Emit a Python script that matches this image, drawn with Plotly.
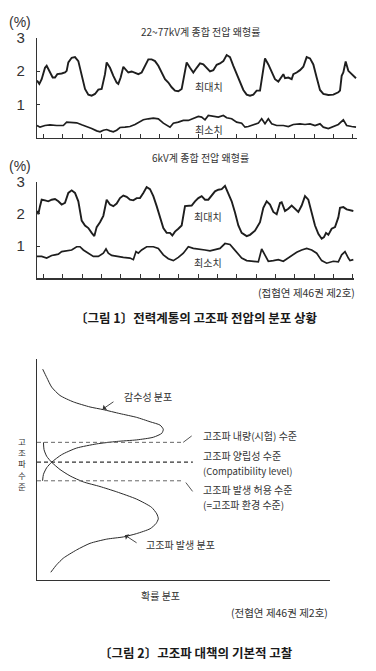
import plotly.graph_objects as go

# ---------------- Figure 1 data (time samples, distortion %) ----------------
t1_max = [1, 8, 15, 25, 30, 40, 48, 55, 62, 75, 85, 90, 95, 105, 115, 125, 130, 135, 145, 155,
          165, 175, 185, 195, 205, 210, 220, 230, 240, 245, 252, 260, 268, 275, 285, 295, 305, 315,
          325, 335, 345, 355, 365, 375, 385, 395, 405, 415, 425, 435, 445, 450, 460, 470, 480, 490,
          500, 510, 520, 530, 540, 550, 560, 570, 580, 590, 600, 610, 620, 630, 640, 650, 660, 670,
          680, 685, 695, 705, 715, 725, 735, 740, 745, 755, 765, 770, 780, 790, 800, 810, 820, 830,
          840, 850, 860, 875, 890, 905, 910, 915, 920, 927, 935, 945, 958]
v1_max = [1.72, 1.62, 1.76, 2.10, 2.16, 1.96, 1.81, 1.81, 1.91, 1.93, 1.96, 2.01, 2.26, 2.40, 2.42,
          2.30, 2.10, 1.81, 1.47, 1.30, 1.27, 1.32, 1.45, 1.47, 1.91, 2.26, 2.10, 1.86, 1.66, 1.62,
          1.81, 2.13, 2.03, 1.96, 1.99, 1.96, 1.91, 1.96, 2.16, 2.35, 2.35, 2.30, 2.16, 1.96, 1.76,
          1.66, 1.52, 1.42, 1.40, 1.47, 1.96, 2.26, 2.10, 1.96, 2.10, 2.23, 2.20, 2.09, 1.99, 2.03,
          2.19, 2.23, 2.30, 2.48, 2.42, 2.16, 1.91, 1.71, 1.44, 1.30, 1.27, 1.30, 1.42, 1.42, 2.10,
          2.38, 2.20, 1.96, 1.76, 1.69, 1.86, 1.91, 1.79, 1.81, 1.76, 1.91, 1.96, 2.03, 2.13, 2.42,
          2.38, 2.20, 1.81, 1.44, 1.32, 1.29, 1.30, 1.37, 1.42, 1.86, 1.96, 2.29, 2.01, 1.91, 1.79]

t1_min = [1, 10, 25, 40, 60, 80, 90, 105, 120, 135, 150, 165, 180, 190, 200, 210, 220, 230, 240,
          250, 265, 280, 295, 310, 320, 335, 350, 365, 380, 400, 410, 425, 440, 455, 470, 485, 495,
          505, 515, 530, 545, 560, 570, 585, 600, 615, 625, 635, 650, 665, 675, 685, 695, 705, 720,
          740, 755, 770, 790, 805, 820, 835, 850, 860, 875, 890, 905, 920, 930, 945, 958]
v1_min = [0.38, 0.33, 0.38, 0.40, 0.38, 0.38, 0.48, 0.48, 0.46, 0.40, 0.35, 0.29, 0.22, 0.19, 0.24,
          0.26, 0.22, 0.19, 0.24, 0.32, 0.33, 0.35, 0.41, 0.48, 0.55, 0.58, 0.60, 0.58, 0.45, 0.33,
          0.45, 0.48, 0.53, 0.53, 0.58, 0.65, 0.63, 0.55, 0.68, 0.65, 0.63, 0.68, 0.61, 0.58, 0.48,
          0.45, 0.33, 0.35, 0.41, 0.45, 0.58, 0.43, 0.58, 0.43, 0.38, 0.38, 0.35, 0.41, 0.43, 0.41,
          0.43, 0.38, 0.43, 0.33, 0.29, 0.35, 0.41, 0.55, 0.38, 0.35, 0.33]

t2_max = [1, 5, 10, 15, 25, 35, 45, 55, 65, 75, 85, 95, 105, 115, 125, 135, 145, 155, 165, 173,
          180, 190, 200, 210, 220, 230, 240, 250, 260, 270, 280, 290, 300, 310, 320, 330, 340, 350,
          360, 370, 380, 390, 400, 407, 415, 425, 435, 445, 455, 465, 475, 485, 495, 505, 515, 525,
          535, 545, 555, 565, 575, 585, 595, 605, 615, 630, 640, 655, 670, 680, 690, 700, 710, 720,
          730, 735, 745, 755, 765, 775, 785, 795, 805, 815, 825, 835, 845, 855, 862, 868, 875, 885,
          895, 905, 910, 920, 930, 940, 950]
v2_max = [2.09, 1.99, 2.24, 2.44, 2.42, 2.39, 2.44, 2.46, 2.39, 2.29, 2.34, 2.65, 2.73, 2.65, 2.39,
          1.79, 1.64, 1.56, 1.41, 1.31, 1.59, 1.74, 1.94, 2.44, 2.29, 2.24, 2.32, 2.49, 2.57, 2.53,
          2.44, 2.42, 2.49, 2.49, 2.65, 2.83, 2.77, 2.55, 2.24, 1.89, 1.56, 1.41, 1.41, 1.33, 1.45,
          1.54, 1.64, 2.24, 2.24, 2.26, 2.39, 2.49, 2.55, 2.44, 2.44, 2.57, 2.70, 2.75, 2.77, 2.87,
          2.65, 2.39, 2.04, 1.64, 1.41, 1.31, 1.35, 1.48, 1.74, 2.19, 2.39, 2.29, 2.06, 1.99, 2.34,
          2.36, 2.09, 2.16, 2.26, 2.16, 2.06, 2.26, 2.55, 2.44, 2.04, 1.64, 1.38, 1.23, 1.28, 1.41,
          1.35, 1.54, 1.59, 1.89, 2.19, 2.21, 2.14, 2.12, 2.09]

t2_min = [1, 15, 30, 45, 55, 65, 75, 90, 105, 120, 130, 140, 155, 170, 185, 200, 208, 215, 225,
          240, 260, 280, 290, 298, 305, 315, 330, 350, 365, 380, 395, 410, 425, 440, 455, 470, 490,
          505, 520, 535, 550, 565, 580, 590, 605, 615, 630, 650, 665, 675, 685, 695, 710, 725, 740,
          755, 770, 780, 795, 810, 825, 840, 855, 870, 890, 905, 915, 925, 935, 940, 950]
v2_min = [0.68, 0.68, 0.63, 0.71, 0.73, 0.75, 0.83, 0.85, 0.88, 0.98, 0.98, 0.88, 0.78, 0.68, 0.68,
          0.78, 0.91, 0.78, 0.71, 0.68, 0.65, 0.63, 0.58, 0.83, 0.78, 0.88, 0.98, 0.98, 0.93, 0.73,
          0.61, 0.55, 0.65, 0.78, 0.98, 0.93, 0.91, 0.88, 0.85, 0.88, 0.93, 1.08, 1.05, 0.93, 0.73,
          0.63, 0.55, 0.53, 0.51, 0.91, 0.73, 0.53, 0.55, 0.58, 0.53, 0.63, 0.73, 0.81, 0.88, 0.93,
          0.88, 0.78, 0.55, 0.47, 0.53, 0.51, 0.73, 0.83, 0.63, 0.55, 0.58]

y_ticks = [1, 2, 3]
y_ticktext = ["1", "2", "3"]

# ---------------- Figure 2 data (probability vs harmonic level, 0-100) ----------------
sus_prob = [1.95, 3.3, 5.0, 7.85, 12.4, 18.1, 22.6, 28.3, 34.0, 38.6, 42.0, 43.1, 42.6, 39.7, 34.0,
            27.2, 20.4, 13.5, 8.4, 5.0, 3.3, 2.2, 1.9]
sus_level = [95.5, 91.8, 87.4, 83.6, 80.7, 78.4, 77.2, 75.4, 73.7, 71.7, 70.2, 68.3, 66.5, 64.7, 63.5,
             62.8, 61.7, 59.8, 56.8, 53.4, 50.9, 47.9, 45.0]
emi_prob = [2.2, 2.4, 3.3, 5.0, 7.85, 11.3, 15.8, 21.5, 27.2, 34.0, 39.1, 40.9, 41.4, 40.6, 38.6,
            34.0, 29.5, 23.8, 18.1, 13.5, 9.0, 6.7, 4.7]
emi_level = [62.4, 59.1, 56.1, 53.4, 50.1, 47.2, 44.5, 42.4, 40.0, 36.7, 33.0, 30.0, 27.8, 25.6, 23.3,
             21.1, 19.6, 18.6, 16.7, 13.7, 10.0, 7.0, 3.6]
levels = [62.4, 53.4, 45.0]          # immunity, compatibility, emission limit
level_ends = [49.9, 53.2, 49.5]
level_colors = ["#666666", "#333333", "#666666"]
level_widths = [1, 1.3, 1]

W, H = 376, 671
def px(x):
    return x / W
def py(y):
    return 1 - y / H

KR = "Noto Sans CJK KR"
LINE = "#1e1e1e"
TXT = "#333333"

fig = go.Figure()

# Figure 1 top chart
fig.add_trace(go.Scatter(x=t1_max, y=v1_max, mode="lines", line=dict(color=LINE, width=1.9),
                         xaxis="x", yaxis="y", hoverinfo="skip"))
fig.add_trace(go.Scatter(x=t1_min, y=v1_min, mode="lines", line=dict(color=LINE, width=1.7),
                         xaxis="x", yaxis="y", hoverinfo="skip"))
# Figure 1 bottom chart
fig.add_trace(go.Scatter(x=t2_max, y=v2_max, mode="lines", line=dict(color=LINE, width=1.9),
                         xaxis="x2", yaxis="y2", hoverinfo="skip"))
fig.add_trace(go.Scatter(x=t2_min, y=v2_min, mode="lines", line=dict(color=LINE, width=1.7),
                         xaxis="x2", yaxis="y2", hoverinfo="skip"))

# Figure 2 diagram
fig.add_trace(go.Scatter(x=sus_prob, y=sus_level, mode="lines", line=dict(color="#2a2a2a", width=1, shape="spline", smoothing=0.6),
                         xaxis="x3", yaxis="y3", hoverinfo="skip"))
fig.add_trace(go.Scatter(x=emi_prob, y=emi_level, mode="lines", line=dict(color="#2a2a2a", width=1, shape="spline", smoothing=0.6),
                         xaxis="x3", yaxis="y3", hoverinfo="skip"))
for lv, le, lc, lw in zip(levels, level_ends, level_colors, level_widths):
    fig.add_trace(go.Scatter(x=[0, le], y=[lv, lv], mode="lines",
                             line=dict(color=lc, width=lw, dash="4px,3px"),
                             xaxis="x3", yaxis="y3", hoverinfo="skip"))
# leader ticks from dashed lines to their labels
fig.add_trace(go.Scatter(x=[level_ends[0], level_ends[0] + 2.9], y=[levels[0], levels[0] + 2.9],
                         mode="lines", line=dict(color="#555555", width=1), xaxis="x3", yaxis="y3", hoverinfo="skip"))
fig.add_trace(go.Scatter(x=[level_ends[2] + 1.3, level_ends[2] + 3.6], y=[levels[2] - 0.8, levels[2] - 4.8],
                         mode="lines", line=dict(color="#555555", width=1), xaxis="x3", yaxis="y3", hoverinfo="skip"))

x_dom = [px(37), px(357)]
common_x = dict(showgrid=False, zeroline=False, showline=True, linecolor="#333333", linewidth=1.2,
                ticks="inside", ticklen=4, tickcolor="#333333", showticklabels=False,
                tick0=20, dtick=58.06)
common_y = dict(showgrid=False, zeroline=False, showline=True, linecolor="#333333", linewidth=1.2,
                ticks="inside", ticklen=3, tickcolor="#333333", range=[0, 3],
                tickvals=y_ticks, ticktext=y_ticktext, ticklabelstandoff=8,
                tickfont=dict(family="Liberation Sans", size=15, color=TXT))

fig.update_layout(
    width=W, height=H, margin=dict(l=0, r=0, t=0, b=0),
    paper_bgcolor="white", plot_bgcolor="rgba(0,0,0,0)", showlegend=False,
    xaxis=dict(domain=x_dom, range=[1, 961], anchor="y", **common_x),
    yaxis=dict(domain=[py(131), py(29)], anchor="x", **common_y),
    xaxis2=dict(domain=[px(37), px(354)], range=[1, 952], anchor="y2", **common_x),
    yaxis2=dict(domain=[py(273), py(175)], anchor="x2", **common_y),
    xaxis3=dict(domain=[px(37), px(330)], range=[0, 100], anchor="y3", showgrid=False, zeroline=False,
                showline=True, linecolor="#333333", linewidth=1, showticklabels=False, ticks=""),
    yaxis3=dict(domain=[py(579), py(355)], range=[0, 100], anchor="x3", showgrid=False, zeroline=False,
                showline=True, linecolor="#333333", linewidth=1, showticklabels=False, ticks=""),
)

def note(text, x, y, size=10, xanchor="center", bold=False, color=TXT, family=KR):
    if bold:
        text = "<b>" + text + "</b>"
    fig.add_annotation(text=text, x=px(x), y=py(y), xref="paper", yref="paper", showarrow=False,
                       xanchor=xanchor, yanchor="middle", font=dict(family=family, size=size, color=color))

# Figure 1 texts
note("(%)", 20, 13, size=14, family="Liberation Sans")
note("22~77kV계 종합 전압 왜형률", 200, 23, size=10)
note("최대치", 209, 79, size=10)
note("최소치", 209, 122, size=10)
note("(%)", 20, 159, size=14, family="Liberation Sans")
note("6kV계 종합 전압 왜형률", 200, 151, size=10)
note("최대치", 208, 210, size=10)
note("최소치", 208, 257, size=10)
note("(접협연 제46권 제2호)", 357, 287, size=10.5, xanchor="right")
note("〔그림 1〕전력계통의 고조파 전압의 분포 상황", 196, 313, size=12.5, bold=True, color="#1a1a1a")

# Figure 2 texts
note("감수성 분포", 122, 393, size=10, xanchor="left")
note("고조파 내량(시험) 수준", 201, 432, size=10, xanchor="left")
note("고조파 양립성 수준", 201, 453, size=10, xanchor="left")
note("(Compatibility level)", 201, 468, size=9.5, xanchor="left")
note("고조파 발생 허용 수준", 201, 487, size=10, xanchor="left")
note("(=고조파 환경 수준)", 201, 502, size=10, xanchor="left")
note("고조파 발생 분포", 144, 543, size=10, xanchor="left")
note("확률 분포", 160, 594, size=10)
note("(전협연 제46권 제2호)", 330, 612, size=10.5, xanchor="right")
note("〔그림 2〕고조파 대책의 기본적 고찰", 196, 652, size=12.5, bold=True, color="#1a1a1a")

# vertical axis label, stacked characters
note("고<br>조<br>파", 22, 449, size=8.5)
note("수<br>준", 22, 478, size=8.5)

# arrows
fig.add_annotation(x=22.4, y=77.4, ax=26.6, ay=81.2, xref="x3", yref="y3", axref="x3", ayref="y3",
                   text="", showarrow=True, arrowhead=1, arrowsize=1.2, arrowwidth=0.9, arrowcolor="#333333")
fig.add_annotation(x=30.0, y=20.4, ax=34.5, ay=16.5, xref="x3", yref="y3", axref="x3", ayref="y3",
                   text="", showarrow=True, arrowhead=1, arrowsize=1.2, arrowwidth=0.9, arrowcolor="#333333")

fig.write_html("out.html", config={"staticPlot": True},
               post_script="document.body.style.margin='0';document.body.style.overflow='hidden';")
